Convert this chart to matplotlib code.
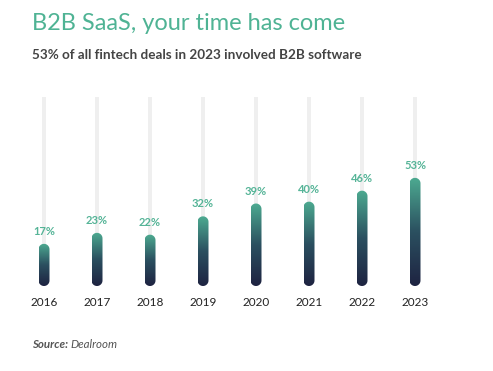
import numpy as np
import matplotlib
matplotlib.use("Agg")
import matplotlib.pyplot as plt
from matplotlib.patches import Polygon
from matplotlib.colors import LinearSegmentedColormap

years = ["2016", "2017", "2018", "2019", "2020", "2021", "2022", "2023"]
share = [17, 23, 22, 32, 39, 40, 46, 53]

title = "B2B SaaS, your time has come"
subtitle = "53% of all fintech deals in 2023 involved B2B software"

W, H = 493, 371
fig = plt.figure(figsize=(W / 100, H / 100), dpi=100)
plt.rcParams['font.family'] = ['Lato', 'DejaVu Sans']

# axes placed in pixels: x step 53px, y 0..100 -> 183px, zero at 280.5px from top
px_x = 53.0
px_y = 1.833
y_lo = -15
ax_left, ax_w = 44 - 0.5 * px_x, 8 * px_x
ax_bot = H - 280.5 + y_lo * px_y
ax_h = (100 - y_lo) * px_y
ax = fig.add_axes([ax_left / W, ax_bot / H, ax_w / W, ax_h / H])
ax.set_xlim(-0.5, 7.5)
ax.set_ylim(y_lo, 100)
ax.axis('off')

teal = "#4dab91"
navy = "#1e2341"
cmap = LinearSegmentedColormap.from_list("bar", [navy, "#2b5060", teal])
grad = np.linspace(0, 1, 256).reshape(-1, 1)

rx = 5.5 / px_x
ry = 5.5 / px_y
t_top = np.linspace(0, np.pi, 40)
t_bot = np.linspace(np.pi, 2 * np.pi, 40)
for i, v in enumerate(share):
    # background track
    ax.plot([i, i], [0, 100], color="#efefef", lw=4 * 0.72,
            solid_capstyle='round', zorder=1)
    xs = np.concatenate([i + rx * np.cos(t_top), i + rx * np.cos(t_bot)])
    ys = np.concatenate([v + ry * np.sin(t_top), ry * np.sin(t_bot)])
    shape = Polygon(np.column_stack([xs, ys]), closed=True, fc='none', ec='none')
    ax.add_patch(shape)
    im = ax.imshow(grad, cmap=cmap, origin='lower', aspect='auto',
                   extent=[i - rx, i + rx, -ry, v + ry], zorder=2)
    im.set_clip_path(shape)
    ax.annotate(f"{v}%", xy=(i, v), xytext=(0, (5.5 + 12.5) * 0.72),
                textcoords='offset points', ha='center', va='center',
                fontsize=8, fontweight='bold', color="#55b497",
                annotation_clip=False)
    ax.text(i, -22.5 / px_y, years[i], ha='center', va='center',
            fontsize=8.5, color="#222222")

fig.text(32 / W, 1 - 23 / H, title, fontsize=17, color="#4fb394",
         ha='left', va='center')
fig.text(32 / W, 1 - 55 / H, subtitle, fontsize=9.7, fontweight='bold',
         color="#444444", ha='left', va='center')
src = fig.text(32 / W, 1 - 345 / H, "Source: ", fontsize=8.3, fontweight='bold',
               style='italic', color="#555555", ha='left', va='center')
fig.canvas.draw()
bb = src.get_window_extent()
fig.text(bb.x1 / W, 1 - 345 / H, "Dealroom", fontsize=8.3, style='italic',
         color="#555555", ha='left', va='center')

fig.savefig("out.png", dpi=100, facecolor='white')
